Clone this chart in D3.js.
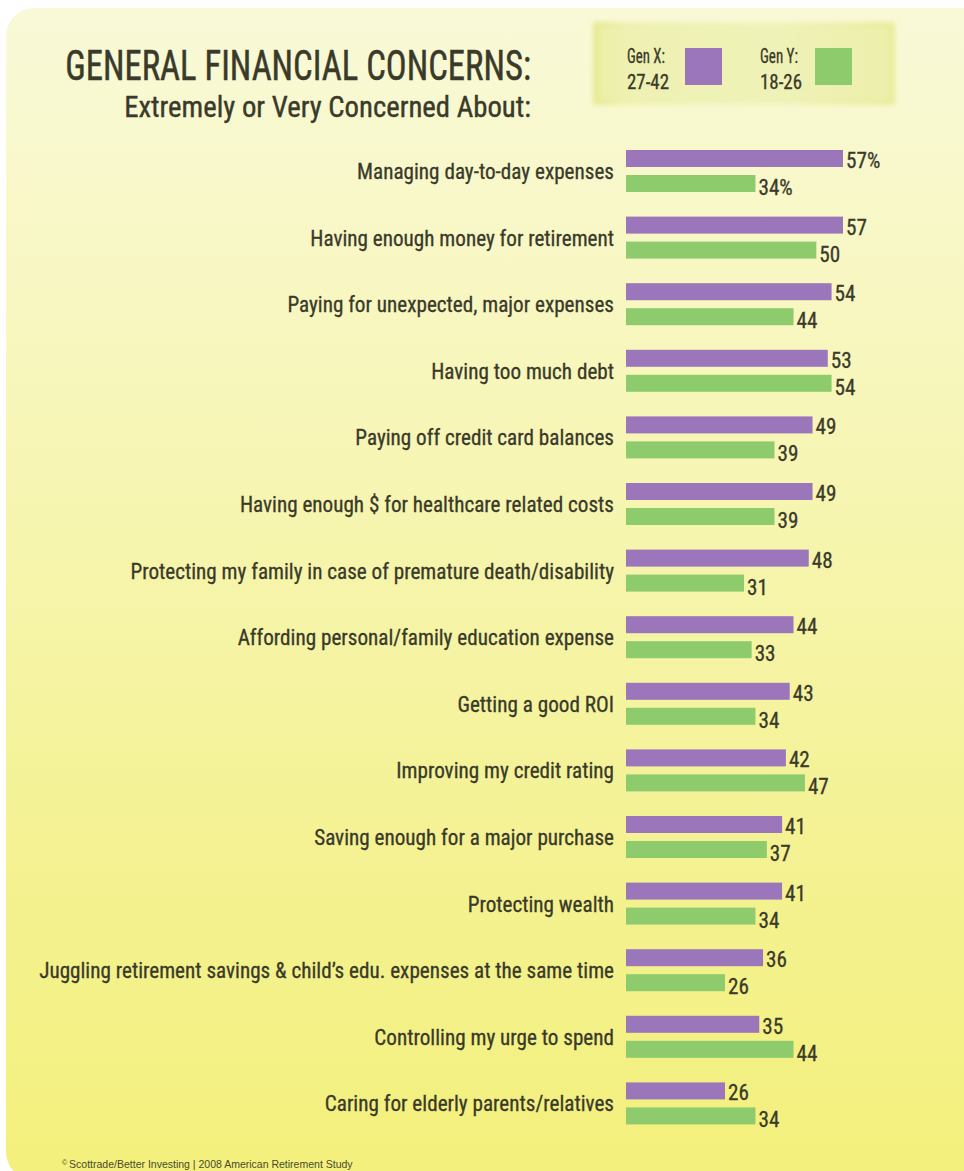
<!DOCTYPE html>
<html>
<head>
<meta charset="utf-8">
<script src="https://cdn.jsdelivr.net/npm/d3@7"></script>
<style>
  html, body { margin: 0; padding: 0; background: #ffffff; }
  svg { display: block; }
  .cond { font-family: "Liberation Sans Narrow", "Roboto Condensed", "DejaVu Sans Condensed", Roboto, sans-serif; }
</style>
</head>
<body>
<svg id="chart" width="964" height="1171"></svg>
<script>
// Survey categories, top to bottom
const categories = [
  "Managing day-to-day expenses",
  "Having enough money for retirement",
  "Paying for unexpected, major expenses",
  "Having too much debt",
  "Paying off credit card balances",
  "Having enough $ for healthcare related costs",
  "Protecting my family in case of premature death/disability",
  "Affording personal/family education expense",
  "Getting a good ROI",
  "Improving my credit rating",
  "Saving enough for a major purchase",
  "Protecting wealth",
  "Juggling retirement savings & child\u2019s edu. expenses at the same time",
  "Controlling my urge to spend",
  "Caring for elderly parents/relatives"
];

// Percent extremely or very concerned
const genX = [57, 57, 54, 53, 49, 49, 48, 44, 43, 42, 41, 41, 36, 35, 26];
const genY = [34, 50, 44, 54, 39, 39, 31, 33, 34, 47, 37, 34, 26, 44, 34];

const seriesNames = ["Gen X:", "Gen Y:"];
const seriesAges = ["27-42", "18-26"];

const colors = { x: "#9b76bb", y: "#8ecb6c" };
const ink = "#3a3a2a";

const svg = d3.select("#chart");
const defs = svg.append("defs");

// Panel background gradient
const bg = defs.append("linearGradient").attr("id", "bgGrad")
  .attr("x1", 0).attr("y1", 0).attr("x2", 0).attr("y2", 1);
bg.append("stop").attr("offset", "0%").attr("stop-color", "#f9f9d8");
bg.append("stop").attr("offset", "35%").attr("stop-color", "#f7f6b8");
bg.append("stop").attr("offset", "70%").attr("stop-color", "#f4f294");
bg.append("stop").attr("offset", "100%").attr("stop-color", "#f3f07c");

// Legend box gradient
const lg = defs.append("linearGradient").attr("id", "legGrad")
  .attr("x1", 0).attr("y1", 0).attr("x2", 1).attr("y2", 0);
lg.append("stop").attr("offset", "0%").attr("stop-color", "#e6ea92");
lg.append("stop").attr("offset", "12%").attr("stop-color", "#eef1b0");
lg.append("stop").attr("offset", "60%").attr("stop-color", "#f1f3bc");
lg.append("stop").attr("offset", "100%").attr("stop-color", "#e8ec9c");

defs.append("filter").attr("id", "soft")
  .append("feGaussianBlur").attr("stdDeviation", 2.5);

svg.append("rect")
  .attr("x", 6).attr("y", 8)
  .attr("width", 990).attr("height", 1172)
  .attr("rx", 28)
  .attr("fill", "url(#bgGrad)");

// Place a text at (x, y) and squeeze it horizontally by k (or to a target width)
function narrowText(parent, x, y, str, opts) {
  const t = parent.append("text").attr("class", "cond")
    .attr("x", 0).attr("y", 0)
    .attr("text-anchor", opts.anchor || "start")
    .attr("font-size", opts.size)
    .attr("fill", ink)
    .attr("stroke", ink).attr("stroke-width", opts.stroke || 0.3)
    .text(str);
  let k = opts.k;
  if (opts.width) k = opts.width / t.node().getComputedTextLength();
  t.attr("transform", `translate(${x},${y}) scale(${k},1)`);
  return t;
}

// Title block
narrowText(svg, 531, 80, "GENERAL FINANCIAL CONCERNS:", { anchor: "end", size: 43, width: 466, stroke: 0.5 });
narrowText(svg, 531, 117, "Extremely or Very Concerned About:", { anchor: "end", size: 30, width: 407, stroke: 0.4 });

// Legend
const legend = svg.append("g");
legend.append("rect")
  .attr("x", 593).attr("y", 22).attr("width", 302).attr("height", 83)
  .attr("fill", "url(#legGrad)")
  .attr("filter", "url(#soft)");
legend.append("rect")
  .attr("x", 600).attr("y", 28).attr("width", 288).attr("height", 71)
  .attr("fill", "#eff2b4")
  .attr("opacity", 0.6)
  .attr("filter", "url(#soft)");

const legX = d3.scaleOrdinal().domain([0, 1]).range([627, 760]);
const legSw = d3.scaleOrdinal().domain([0, 1]).range([685, 815]);
[colors.x, colors.y].forEach((c, i) => {
  narrowText(legend, legX(i), 63, seriesNames[i], { size: 20, width: 38 });
  narrowText(legend, legX(i), 89, seriesAges[i], { size: 20, width: 42 });
  legend.append("rect")
    .attr("x", legSw(i)).attr("y", 48)
    .attr("width", 37).attr("height", 37)
    .attr("fill", c);
});

// Scales
const x = d3.scaleLinear().domain([0, 57]).range([626, 843]);
const row = d3.scaleBand()
  .domain(d3.range(categories.length))
  .range([146, 146 + 66.6 * categories.length])
  .paddingInner(0);
const barH = 17;
const offX = 4;   // purple bar top within row
const offY = 29;  // green bar top within row

const rows = svg.append("g").selectAll("g")
  .data(categories)
  .join("g")
  .attr("transform", (d, i) => `translate(0,${row(i)})`);

// Horizontal squeeze for the condensed label face, set from the first label
const probe = svg.append("text").attr("class", "cond").attr("font-size", 22).text(categories[0]);
const squeeze = 257 / probe.node().getComputedTextLength();
probe.remove();

rows.each(function (d, i) {
  const g = d3.select(this);
  // category label
  narrowText(g, 614, 33, d, { anchor: "end", size: 22, k: squeeze });
  // bars
  g.append("rect")
    .attr("x", x(0)).attr("y", offX)
    .attr("width", x(genX[i]) - x(0))
    .attr("height", barH)
    .attr("fill", colors.x);
  g.append("rect")
    .attr("x", x(0)).attr("y", offY)
    .attr("width", x(genY[i]) - x(0))
    .attr("height", barH)
    .attr("fill", colors.y);
  // value labels
  narrowText(g, x(genX[i]) + 3, offX + barH + 1, i === 0 ? genX[i] + "%" : String(genX[i]), { size: 22, k: squeeze });
  narrowText(g, x(genY[i]) + 3, offY + barH + 3, i === 0 ? genY[i] + "%" : String(genY[i]), { size: 22, k: squeeze });
});

// Source line
const src = svg.append("text")
  .attr("x", 62).attr("y", 1168)
  .attr("font-family", "Liberation Sans, Arial, sans-serif")
  .attr("font-size", 10.5)
  .attr("fill", "#4a4a2a");
src.append("tspan").attr("font-size", 7).attr("dy", -3).text("\u00a9 ");
src.append("tspan").attr("dy", 3).text("Scottrade/Better Investing | 2008 American Retirement Study");
</script>
</body>
</html>
